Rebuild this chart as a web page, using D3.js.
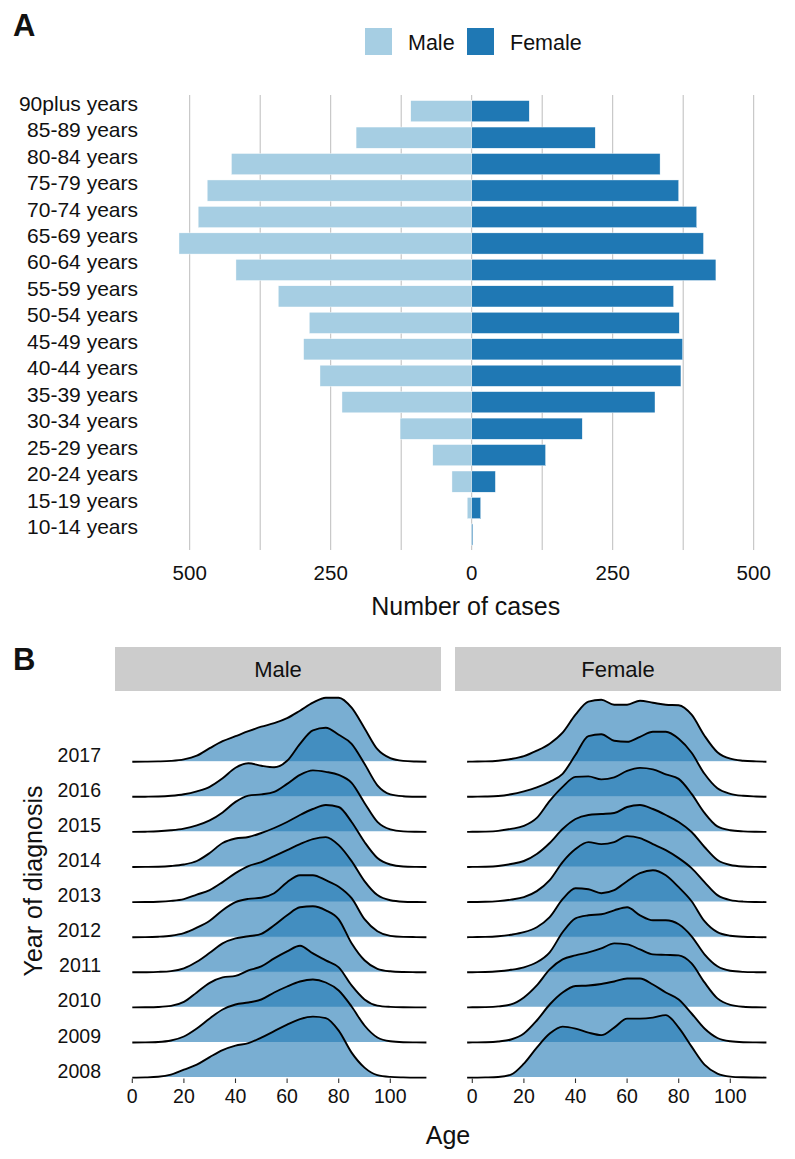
<!DOCTYPE html>
<html><head><meta charset="utf-8">
<script src="https://cdn.jsdelivr.net/npm/d3@7"></script>
<style>body{margin:0;background:#fff}svg{display:block}text{font-family:"Liberation Sans",Arial,Helvetica,sans-serif;fill:#111}</style>
</head><body><svg id="c" width="795" height="1159"></svg>
<script>
// ---------- Panel A data ----------
const ageGroups = ["90plus years","85-89 years","80-84 years","75-79 years","70-74 years","65-69 years","60-64 years","55-59 years","50-54 years","45-49 years","40-44 years","35-39 years","30-34 years","25-29 years","20-24 years","15-19 years","10-14 years"];
const maleCases   = [108,205,426,469,485,519,418,343,288,298,269,230,127,69,35,8,1];
const femaleCases = [102,219,334,367,399,411,433,358,368,374,371,325,196,131,42,16,2];
const barTicks = [-500,-250,0,250,500];
const barGrid = [-500,-375,-250,-125,0,125,250,375,500];
const sexes = ["Male","Female"];

// ---------- Panel B data (ridge heights, ages 0..114) ----------
const years = [2008,2009,2010,2011,2012,2013,2014,2015,2016,2017];
const ages = [0,5,10,15,20,25,30,35,40,45,50,55,60,65,70,75,80,85,90,95,100,105,110,114];
const maleDens = {
  2017:[0,0.1,0.3,0.8,2.3,6,13.5,20.5,25.5,30.5,35,38.5,43.5,51,59,64,64,54,33.5,12.5,3.5,0.8,0.2,0],
  2016:[0,0.1,0.3,1,2.5,5.5,10,18.5,29,33.5,31,29.5,36,53,66.5,69,62,53,33,11.5,2.5,0.6,0.1,0],
  2015:[0,0.2,0.6,1.6,3.3,6.5,11.5,19.5,30,36.3,37.5,40,48,57,61.5,60,57,49,29,10,2.5,0.5,0.1,0],
  2014:[0,0.1,0.3,1,2.5,6,14,24,28.5,30,34,39,45,52,58,62,60,45,25,9,2.5,0.5,0.1,0],
  2013:[0,0.1,0.4,1.2,3,7.5,12,20,29,36,40,46,52,58,63,65,57,41,21,7,1.8,0.4,0.1,0],
  2012:[0,0.1,0.5,1.5,4,9.5,16.5,27,35,38.3,39.5,44,55,62,62,57,50.5,39,18,6,1.3,0.3,0.1,0],
  2011:[0,0.1,0.4,1.2,4,10.5,19.5,29,34,36,38.5,47,57,65,66,62,53,29,12,3.5,1,0.3,0.1,0],
  2010:[0,0.1,0.4,1.5,5.5,15,24.5,30,31.5,37,41,49,56,61.7,54,47,40,22,8,1.8,0.5,0.1,0,0],
  2009:[0,0.1,0.5,2,6,14,24,33,38,40,43,50,56,61,63,60,52,36,17,5,1.2,0.3,0.1,0],
  2008:[0,0.2,0.8,3,8,13,20.5,27.5,32,34.5,40,46.5,53,58.5,61,59.5,47,25,10,2.5,0.7,0.2,0,0]
};
const femaleDens = {
  2017:[0.1,0.3,1,2.7,5.5,11,18,29,47,60,62,57,57,61,59,57,56.5,47,26,9.5,3,1,0.3,0],
  2016:[0.1,0.3,0.8,2.5,5.5,9.5,15,23,42,60.7,62.5,56,55,60,65,65,58,44,23,8.5,3,1,0.3,0],
  2015:[0.1,0.3,1,3,6,14,31,45,55,55.5,52.5,54.5,61,64,62.5,57.5,53,38,19,5.5,1.7,0.5,0.1,0],
  2014:[0.1,0.3,1,3,6,13,24,38,48,52,53,54,60,62,58,52,45,35,20,7,2,0.5,0.1,0],
  2013:[0.1,0.3,1,2.5,5,11,22,40,53,60,58,60,66,64,58,52,44,34,20,7,2,0.5,0.1,0],
  2012:[0.1,0.3,1,2.5,5,10,20,38,49,48,44,47,56,64,67,62,50,36,16,5,1.5,0.4,0.1,0],
  2011:[0.1,0.3,1,2.5,5,10,20,40,54,57,58,62,65,57,52,52,48,36,18,6,1.5,0.4,0.1,0],
  2010:[0.1,0.3,1,3,10,22,38,48,52,55,59,64,63,58,53,52.5,52,44,25,9,2.5,0.6,0.1,0],
  2009:[0.1,0.3,1,3,9,22,38,50,56.5,57,58.5,61,64,64,58,50,43,29,14,4.5,1.2,0.3,0.1,0],
  2008:[0,0.2,0.6,3,14,30,44,51,49,45,42.5,50,59,59,60,62.5,50,31,13,4,1,0.3,0.1,0]
};
const ageTicks = [0,20,40,60,80,100];

// ---------- colours ----------
const lightBlue = "#A6CEE3", darkBlue = "#1F78B4";

const svg = d3.select("#c");

// ================= Panel A =================
const xA = d3.scaleLinear().domain([-550,550]).range([471.7-550*0.564, 471.7+550*0.564]);
const yA = d3.scaleBand().domain(ageGroups).range([95.3,550.4]).paddingInner(0.2).paddingOuter(0.2);

svg.append("text").attr("x",13).attr("y",36).attr("font-size",31).attr("font-weight","bold").text("A");

// legend
const leg = svg.append("g");
const legX = [365, 467];
sexes.forEach((s,i)=>{
  leg.append("rect").attr("x",legX[i]).attr("y",28).attr("width",27).attr("height",27).attr("fill",i?darkBlue:lightBlue);
  leg.append("text").attr("x",legX[i]+43).attr("y",49.5).attr("font-size",21.5).text(s);
});

// grid
svg.append("g").selectAll("line").data(barGrid).join("line")
  .attr("x1",d=>xA(d)).attr("x2",d=>xA(d)).attr("y1",95).attr("y2",550)
  .attr("stroke","#b5b5b5").attr("stroke-width",0.9);

// bars
const gBars = svg.append("g");
gBars.selectAll("rect.m").data(ageGroups).join("rect").attr("class","m")
  .attr("x",(d,i)=>xA(-maleCases[i])).attr("width",(d,i)=>xA(0)-xA(-maleCases[i]))
  .attr("y",d=>yA(d)).attr("height",yA.bandwidth()).attr("fill",lightBlue)
  .attr("stroke","#fff").attr("stroke-width",0.4);
gBars.selectAll("rect.f").data(ageGroups).join("rect").attr("class","f")
  .attr("x",xA(0)).attr("width",(d,i)=>xA(femaleCases[i])-xA(0))
  .attr("y",d=>yA(d)).attr("height",yA.bandwidth()).attr("fill",darkBlue)
  .attr("stroke","#fff").attr("stroke-width",0.4);

// y labels (text baseline sits on the band centre, as in the original theme)
svg.append("g").selectAll("text").data(ageGroups).join("text")
  .attr("x",138).attr("y",d=>yA(d)+yA.bandwidth()/2-0.5)
  .attr("text-anchor","end").attr("font-size",21).text(d=>d);

// x tick labels
svg.append("g").selectAll("text").data(barTicks).join("text")
  .attr("x",d=>xA(d)).attr("y",580).attr("text-anchor","middle").attr("font-size",20.5)
  .text(d=>Math.abs(d));
svg.append("text").attr("x",xA(0)-6).attr("y",615).attr("text-anchor","middle").attr("font-size",25).text("Number of cases");

// ================= Panel B =================
svg.append("text").attr("x",13).attr("y",670).attr("font-size",31).attr("font-weight","bold").text("B");

const yB = d3.scalePoint().domain(years).range([1077.6,761.7]);
const hB = d3.scaleLinear().domain([0,70]).range([0,70]);
const panels = [
  {name:"Male", dens:maleDens, x0:115, x1:441, xs:d3.scaleLinear().domain([0,100]).range([132.3,390.3]), start:0},
  {name:"Female", dens:femaleDens, x0:455, x1:781, xs:d3.scaleLinear().domain([0,100]).range([472.3,730.3]), start:-2}
];

panels.forEach(p=>{
  const g = svg.append("g");
  g.append("rect").attr("x",p.x0).attr("y",647).attr("width",p.x1-p.x0).attr("height",44).attr("fill","#cccccc");
  g.append("text").attr("x",(p.x0+p.x1)/2).attr("y",669).attr("dy","0.35em").attr("text-anchor","middle").attr("font-size",22).text(p.name);

  const order = years.slice().reverse(); // top (2017) first
  order.forEach(yr=>{
    const vals = p.dens[yr];
    let pts = ages.map((a,i)=>[a, vals[i]]);
    if (p.start < 0) pts = [[p.start,0]].concat(pts);
    const base = yB(yr);
    const area = d3.area().x(d=>p.xs(d[0])).y0(base).y1(d=>base-hB(d[1])).curve(d3.curveMonotoneX);
    const line = d3.line().x(d=>p.xs(d[0])).y(d=>base-hB(d[1])).curve(d3.curveMonotoneX);
    g.append("path").attr("d",area(pts)).attr("fill",darkBlue).attr("fill-opacity",0.6);
    g.append("line").attr("x1",p.xs(pts[0][0])).attr("x2",p.xs(pts[pts.length-1][0])).attr("y1",base).attr("y2",base)
      .attr("stroke","#fff").attr("stroke-width",1.1);
    g.append("path").attr("d",line(pts)).attr("fill","none").attr("stroke","#000").attr("stroke-width",1.9).attr("stroke-linejoin","round");
  });

  // x axis ticks
  g.append("g").selectAll("line").data(ageTicks).join("line")
    .attr("x1",d=>p.xs(d)).attr("x2",d=>p.xs(d)).attr("y1",1078.5).attr("y2",1083)
    .attr("stroke","#333").attr("stroke-width",1.1);
  g.append("g").selectAll("text").data(ageTicks).join("text")
    .attr("x",d=>p.xs(d)).attr("y",1103).attr("text-anchor","middle").attr("font-size",19.5).text(d=>d);
});

// year labels
svg.append("g").selectAll("text").data(years).join("text")
  .attr("x",101).attr("y",d=>yB(d)).attr("text-anchor","end").attr("font-size",19.5).text(d=>d);

svg.append("text").attr("x",448).attr("y",1144).attr("text-anchor","middle").attr("font-size",25).text("Age");
svg.append("text").attr("transform","translate(42,881) rotate(-90)").attr("text-anchor","middle").attr("font-size",25).text("Year of diagnosis");
</script></body></html>
